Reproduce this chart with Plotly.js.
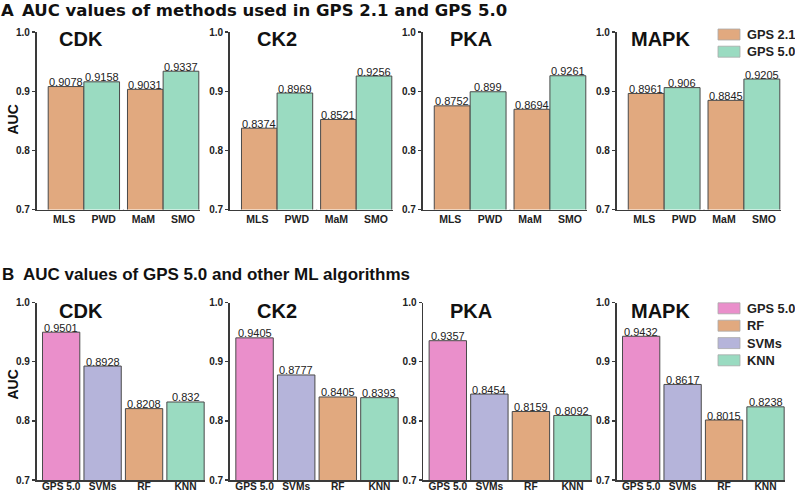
<!DOCTYPE html>
<html>
<head>
<meta charset="utf-8">
<script src="https://cdn.plot.ly/plotly-3.0.1.min.js"></script>
<style>html,body{margin:0;padding:0;background:#fff;}#chart{width:795px;height:492px;}</style>
</head>
<body>
<div id="chart"></div>
<script>
// ---- data ----
const kinases = ['CDK', 'CK2', 'PKA', 'MAPK'];
const methodsA = ['MLS', 'PWD', 'MaM', 'SMO'];
const seriesA = ['GPS 2.1', 'GPS 5.0'];
const gps21_MLS = [0.9078, 0.8374, 0.8752, 0.8961];
const gps50_PWD = [0.9158, 0.8969, 0.899, 0.906];
const gps21_MaM = [0.9031, 0.8521, 0.8694, 0.8845];
const gps50_SMO = [0.9337, 0.9256, 0.9261, 0.9205];

const algosB = ['GPS 5.0', 'SVMs', 'RF', 'KNN'];
const legendB = ['GPS 5.0', 'RF', 'SVMs', 'KNN'];
const aucGPS50 = [0.9501, 0.9405, 0.9357, 0.9432];
const aucSVMs = [0.8928, 0.8777, 0.8454, 0.8617];
const aucRF = [0.8208, 0.8405, 0.8159, 0.8015];
const aucKNN = [0.832, 0.8393, 0.8092, 0.8238];
const yTicks = [0.7, 0.8, 0.9, 1.0];
const yTickText = ['0.7', '0.8', '0.9', '1.0'];

// ---- styles ----
const W = 795, H = 492;
const C_ORANGE = '#E1A97F', C_GREEN = '#9ADBC1', C_PINK = '#EA8FCB', C_LAV = '#B5B4DA';
const LINE = '#3a3a3a';
const px = v => v / W, py = v => 1 - v / H;
const FONT = 'Liberation Sans, Arial, sans-serif';

const domA = [[36.7, 200], [230, 393], [422.7, 587], [616.7, 781]];
const domB = [[36.7, 205], [230, 399], [423.3, 592], [616.7, 785]];
const yDomA = [py(209.5), py(32)];
const yDomB = [py(480), py(302.7)];

const traces = [];
const layout = {
  width: W, height: H,
  margin: {l: 0, r: 0, t: 0, b: 0},
  paper_bgcolor: '#fff', plot_bgcolor: 'rgba(0,0,0,0)',
  barmode: 'overlay', showlegend: false,
  font: {family: FONT, color: '#222'},
  annotations: [], shapes: []
};

function axisStyle(cats, dom, rng, standoff, fs) {
  return {
    domain: [px(dom[0]), px(dom[1])], type: 'category', categoryorder: 'array', categoryarray: cats,
    range: rng, showline: true, linecolor: LINE, linewidth: 1.8, showgrid: false, zeroline: false,
    ticks: '', ticklabelstandoff: standoff,
    tickfont: {size: fs, weight: 'bold', color: '#222'}, fixedrange: true
  };
}
function yStyle(dom, anchor) {
  return {
    domain: dom, anchor: anchor, range: [0.7, 1.0], tickvals: yTicks, ticktext: yTickText,
    showline: true, linecolor: LINE, linewidth: 1.8, showgrid: false, zeroline: false,
    ticks: 'outside', ticklen: 3, tickwidth: 1.2, tickcolor: LINE,
    tickfont: {size: 10, weight: 'bold', color: '#222'}, fixedrange: true
  };
}
function bar(name, color, extra) {
  return Object.assign({
    type: 'bar', name: name, marker: {color: color, line: {color: '#4a4a4a', width: 1}},
    hoverinfo: 'skip', showlegend: false
  }, extra);
}
function valueLabel(xref, yref, xcat, yval, xshift) {
  layout.annotations.push({
    text: String(yval), xref: xref, yref: yref, x: xcat, y: yval, xanchor: 'center', yanchor: 'bottom',
    yshift: -2.5, xshift: xshift || 0, showarrow: false, borderpad: 0,
    font: {size: 11, color: '#222', family: FONT}
  });
}

for (let k = 0; k < 4; k++) {
  const ia = k + 1, ib = k + 5;
  const sa = ia === 1 ? '' : String(ia);
  const xa = 'x' + sa, ya = 'y' + sa;
  const xb = 'x' + ib, yb = 'y' + ib;
  layout['xaxis' + sa] = Object.assign(axisStyle(methodsA, domA[k], [-0.69, 3.43], -1, 10.5), {anchor: ya});
  layout['yaxis' + sa] = yStyle(yDomA, xa);
  layout['xaxis' + ib] = Object.assign(axisStyle(algosB, domB[k], [-0.59, 3.47], -4, 10.2), {anchor: yb});
  layout['yaxis' + ib] = yStyle(yDomB, xb);

  // Row A
  const a1x = [methodsA[0], methodsA[2]], a1y = [gps21_MLS[k], gps21_MaM[k]];
  const a2x = [methodsA[1], methodsA[3]], a2y = [gps50_PWD[k], gps50_SMO[k]];
  traces.push(bar(seriesA[0], C_ORANGE, {x: a1x, y: a1y, width: 0.9, offset: -0.4, xaxis: xa, yaxis: ya}));
  traces.push(bar(seriesA[1], C_GREEN, {x: a2x, y: a2y, width: 0.9, offset: -0.5, xaxis: xa, yaxis: ya}));
  a1x.forEach((c, i) => valueLabel(xa, ya, c, a1y[i], 2));
  a2x.forEach((c, i) => valueLabel(xa, ya, c, a2y[i], -2));

  // Row B
  const seriesB = [['GPS 5.0', aucGPS50, C_PINK], ['RF', aucRF, C_ORANGE], ['SVMs', aucSVMs, C_LAV], ['KNN', aucKNN, C_GREEN]];
  seriesB.forEach(([nm, arr, col]) => {
    traces.push(bar(nm, col, {x: [nm], y: [arr[k]], width: 0.9, xaxis: xb, yaxis: yb}));
    valueLabel(xb, yb, nm, arr[k], 0);
  });

  // divider tick between method groups (row A) and centre ticks (row B)
  layout.shapes.push({type: 'line', xref: xa, yref: ya, x0: 1.5, x1: 1.5, y0: 0.7, y1: 0.6935,
                      line: {color: LINE, width: 1.2}});
  for (let i = 0; i < algosB.length; i++) {
    layout.shapes.push({type: 'line', xref: xb, yref: yb, x0: i, x1: i, y0: 0.7, y1: 0.6935,
                        line: {color: LINE, width: 1}});
  }
}

// manual legends
function addLegend(names, colors, yCenters) {
  names.forEach((nm, i) => {
    const yc = yCenters[i];
    layout.shapes.push({type: 'rect', xref: 'paper', yref: 'paper', x0: px(718), x1: px(740),
      y0: py(yc + 5.5), y1: py(yc - 5.5), fillcolor: colors[i], line: {color: '#aaa', width: 0.8}});
    layout.annotations.push({text: nm, xref: 'paper', yref: 'paper', x: px(745), y: py(yc), xanchor: 'left', yanchor: 'middle',
      showarrow: false, font: {size: 12.8, weight: 'bold', color: '#222', family: FONT}});
  });
}
addLegend(seriesA, [C_ORANGE, C_GREEN], [34.5, 51.7]);
addLegend(legendB, [C_PINK, C_ORANGE, C_LAV, C_GREEN], [308.3, 325.7, 343.1, 360.3]);

// panel titles
const titleX = [57, 255, 448, 629];
kinases.forEach((kn, k) => {
  layout.annotations.push({text: kn, xref: 'paper', yref: 'paper', x: px(titleX[k]), y: py(39),
    xanchor: 'left', yanchor: 'middle', showarrow: false, font: {size: 20, weight: 'bold', color: '#111'}});
  layout.annotations.push({text: kn, xref: 'paper', yref: 'paper', x: px(titleX[k]), y: py(311),
    xanchor: 'left', yanchor: 'middle', showarrow: false, font: {size: 20, weight: 'bold', color: '#111'}});
});
// y titles
[120, 385].forEach(yc => {
  layout.annotations.push({text: 'AUC', xref: 'paper', yref: 'paper', x: px(12.5), y: py(yc),
    xanchor: 'center', yanchor: 'middle', textangle: -90, showarrow: false,
    font: {size: 14, weight: 'bold', color: '#111'}});
});
// section headings
const HFONT_A = {size: 16.5, weight: 'bold', color: '#111', family: 'DejaVu Sans, Verdana, sans-serif'};
const HFONT_B = {size: 17, weight: 'bold', color: '#111', family: FONT};
layout.annotations.push({text: 'A', xref: 'paper', yref: 'paper', x: px(0), y: 1, xanchor: 'left', yanchor: 'top',
  borderpad: 0, showarrow: false, font: HFONT_A});
layout.annotations.push({text: 'AUC values of methods used in GPS 2.1 and GPS 5.0', xref: 'paper', yref: 'paper',
  x: px(20.5), y: 1, xanchor: 'left', yanchor: 'top', borderpad: 0, showarrow: false, font: HFONT_A});
layout.annotations.push({text: 'B', xref: 'paper', yref: 'paper', x: px(0), y: py(274.5), xanchor: 'left', yanchor: 'middle', showarrow: false, font: HFONT_B});
layout.annotations.push({text: 'AUC values of GPS 5.0 and other ML algorithms', xref: 'paper', yref: 'paper',
  x: px(21), y: py(274.5), xanchor: 'left', yanchor: 'middle', showarrow: false, font: HFONT_B});

Plotly.newPlot('chart', traces, layout, {displayModeBar: false, staticPlot: true});
</script>
</body>
</html>
